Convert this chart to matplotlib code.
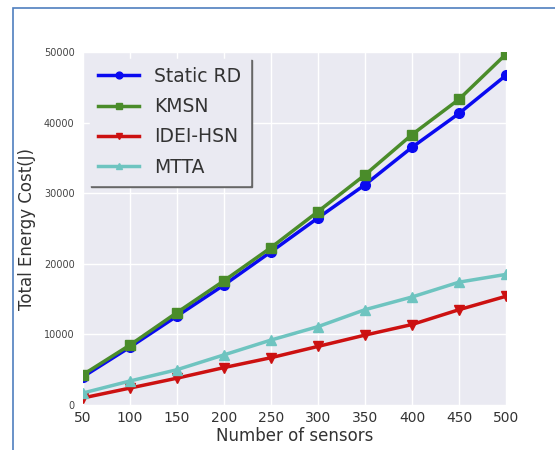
import matplotlib
matplotlib.use("Agg")
import matplotlib.pyplot as plt
from matplotlib.patches import Rectangle

# data
sensors = [50, 100, 150, 200, 250, 300, 350, 400, 450, 500]
static_rd = [4000, 8200, 12600, 17000, 21700, 26500, 31200, 36500, 41300, 46700]
kmsn = [4300, 8500, 13100, 17600, 22300, 27400, 32600, 38300, 43300, 49700]
idei_hsn = [1000, 2400, 3800, 5300, 6700, 8300, 9900, 11400, 13500, 15400]
mtta = [1700, 3400, 5000, 7100, 9200, 11100, 13500, 15300, 17400, 18500]

fig = plt.figure(figsize=(5.55, 4.5), dpi=100)
fig.patch.set_facecolor("white")

# blue frame of the screenshot
fig.patches.append(Rectangle((13 / 555, -0.1), 1.2, 1.1 - 8 / 450,
                             transform=fig.transFigure, fill=False,
                             edgecolor="#4f7fbf", linewidth=1.2))

ax = fig.add_axes([83 / 555, 45 / 450, 423 / 555, 353 / 450])
ax.set_facecolor("#eaeaf2")
for s in ax.spines.values():
    s.set_visible(False)
ax.grid(True, color="white", linewidth=1.0)
ax.set_axisbelow(True)

ax.plot(sensors, static_rd, color="#0a0af0", marker="o", markersize=7, linewidth=2.5, label="Static RD")
ax.plot(sensors, kmsn, color="#4a8c2a", marker="s", markersize=6.5, linewidth=2.5, label="KMSN")
ax.plot(sensors, idei_hsn, color="#cc1111", marker="v", markersize=7, linewidth=2.5, label="IDEI-HSN")
ax.plot(sensors, mtta, color="#6ec4c0", marker="^", markersize=7, linewidth=2.5, label="MTTA")

ax.set_xlim(50, 500)
ax.set_ylim(0, 50000)
ax.set_xticks(sensors)
ax.set_yticks([0, 10000, 20000, 30000, 40000, 50000])
ax.tick_params(axis="x", labelsize=10, colors="#333333", length=0, pad=4)
ax.tick_params(axis="y", labelsize=7, colors="#444444", length=0, pad=6)

ax.set_xlabel("Number of sensors", fontsize=12, color="#333333", labelpad=2)
ax.set_ylabel("Total Energy Cost(J)", fontsize=12, color="#333333", labelpad=6)

leg = ax.legend(loc="upper left", fontsize=13.5, frameon=True,
                shadow={"ox": 1.3, "oy": -1.3, "color": "#666666", "alpha": 1.0},
                borderpad=0.45, handlelength=2.2, labelspacing=0.6,
                markerscale=0.7, borderaxespad=0.35, fancybox=False)
leg.get_frame().set_facecolor("#eaeaf2")
leg.get_frame().set_edgecolor("#eaeaf2")
leg.get_frame().set_alpha(1.0)
for t in leg.get_texts():
    t.set_color("#333333")

fig.savefig("out.png", dpi=100)
